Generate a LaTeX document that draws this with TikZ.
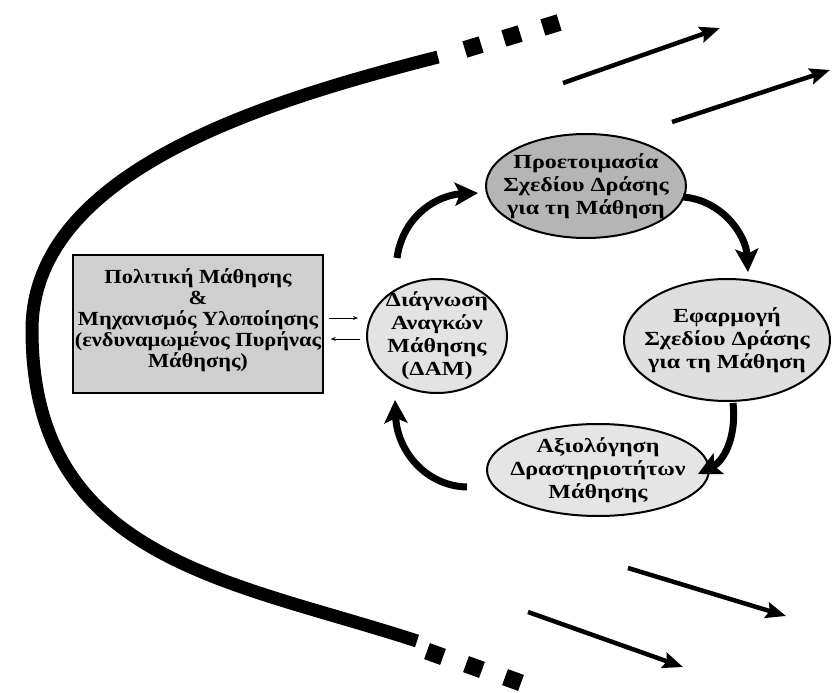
\documentclass[tikz,border=0pt]{standalone}
\usepackage{fontspec}
\setmainfont{Liberation Serif}
\newfontfamily\widebox[FakeStretch=1.12]{Liberation Serif}
\newfontfamily\wideell[FakeStretch=1.2]{Liberation Serif}
\usetikzlibrary{shapes.geometric,arrows.meta}
\begin{document}
\begin{tikzpicture}[x=1pt,y=-1pt,
  ell/.style={ellipse, draw=black, line width=2pt, inner sep=0pt},
  txt/.style={align=center, font=\wideell\bfseries\fontsize{20}{23}\selectfont, inner sep=0pt},
  boxtxt/.style={align=center, font=\widebox\bfseries\fontsize{20}{21}\selectfont, inner sep=0pt},
  cyc/.style={line width=7pt, -{Stealth[length=23pt,width=23pt,inset=5pt]}},
  outarrow/.style={line width=4.5pt, -{Stealth[length=20pt,width=16pt,inset=3pt]}},
  thinarrow/.style={line width=0.8pt, -{Stealth[length=5pt,width=4pt]}},
  sq/.style={fill=black, minimum size=17pt, inner sep=0pt},
  band/.style={line width=13pt}]
\useasboundingbox (0,0) rectangle (833,693);
\fill[white] (0,0) rectangle (833,693);

% big curve
\coordinate (ctop) at (438,57);
\coordinate (cleft) at (32,330);
\coordinate (cbot) at (417,641);
\draw[band] (ctop) .. controls (270,100) and (32,170) .. (cleft)
  .. controls (32,560) and (230,580) .. (cbot);
\node[sq, rotate=17] (st1) at (473,47) {};
\node[sq, rotate=17] (st2) at (512,36) {};
\node[sq, rotate=17] (st3) at (551,25) {};
\node[sq, rotate=-20] (sb1) at (435,654) {};
\node[sq, rotate=-20] (sb2) at (474,667) {};
\node[sq, rotate=-20] (sb3) at (513,680) {};

% outward arrows
\coordinate (a1s) at (563,83);  \coordinate (a1e) at (720,28);
\coordinate (a2s) at (672,122); \coordinate (a2e) at (830,70);
\coordinate (a3s) at (628,568); \coordinate (a3e) at (786,616);
\coordinate (a4s) at (528,612); \coordinate (a4e) at (683,667);
\draw[outarrow] (a1s) -- (a1e);
\draw[outarrow] (a2s) -- (a2e);
\draw[outarrow] (a3s) -- (a3e);
\draw[outarrow] (a4s) -- (a4e);

% box
\node[draw=black, line width=1.5pt, fill=gray!38, minimum width=250pt, minimum height=138pt, inner sep=0pt] (pol) at (198,324) {};
\node[boxtxt] (polt) at (198,320) {Πολιτική Μάθησης\\\&\\Μηχανισμός Υλοποίησης\\(ενδυναμωμένος Πυρήνας\\Μάθησης)};

% ellipses
\node[ell, fill=gray!22, minimum width=140pt, minimum height=114pt] (dam) at (437,336) {};
\node[txt] (damt) at (dam.center) {Διάγνωση\\Αναγκών\\Μάθησης\\(ΔΑΜ)};
\node[ell, fill=gray!58, minimum width=200pt, minimum height=104pt] (prep) at (586,186) {};
\node[txt] (prept) at (prep.center) {Προετοιμασία\\Σχεδίου Δράσης\\για τη Μάθηση};
\node[ell, fill=gray!25, minimum width=206pt, minimum height=122pt] (impl) at (727,340) {};
\node[txt] (implt) at (impl.center) {Εφαρμογή\\Σχεδίου Δράσης\\για τη Μάθηση};
\node[ell, fill=gray!20, minimum width=222pt, minimum height=92pt] (eval) at (598,470) {};
\node[txt] (evalt) at (eval.center) {Αξιολόγηση\\Δραστηριοτήτων\\Μάθησης};

% small arrows
\coordinate (p1) at (pol.east |- 0,318);
\coordinate (p2) at (pol.east |- 0,339);
\draw[thinarrow] ([xshift=5pt]p1) -- ([xshift=-8pt]dam.west |- p1);
\draw[thinarrow] ([xshift=-6pt]dam.west |- p2) -- ([xshift=7pt]p2);

% cycle arrows
\coordinate (c1s) at (397,258); \coordinate (c1e) at (478,193);
\coordinate (c2s) at (683,197); \coordinate (c2e) at (748,272);
\coordinate (c3s) at (733,403); \coordinate (c3e) at (698,474);
\coordinate (c4s) at (467,487); \coordinate (c4e) at (395,400);
\draw[cyc] (c1s) .. controls (403,215) and (438,195) .. (c1e);
\draw[cyc] (c2s) .. controls (722,200) and (746,235) .. (c2e);
\draw[cyc] (c3s) .. controls (737,440) and (722,462) .. (c3e);
\draw[cyc] (c4s) .. controls (425,486) and (397,450) .. (c4e);
\end{tikzpicture}
\end{document}
